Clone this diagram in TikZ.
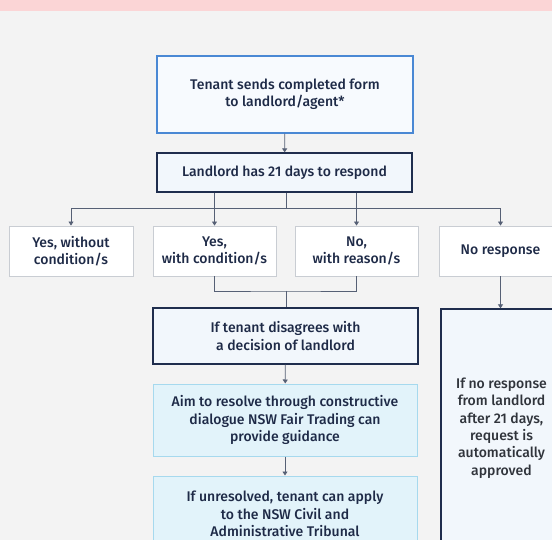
\documentclass[tikz,border=0pt]{standalone}
\usepackage{fontspec}
\setmainfont{Fira Sans}[UprightFont=* Medium, BoldFont=* SemiBold]
\usetikzlibrary{arrows.meta}

\definecolor{pagebg}{HTML}{F3F3F3}
\definecolor{bandpink}{HTML}{FBD5D6}
\definecolor{navytext}{HTML}{1E2A47}
\definecolor{navyline}{HTML}{1F2D4D}
\definecolor{linkgray}{HTML}{566075}
\definecolor{topblue}{HTML}{4A88D4}
\definecolor{topfill}{HTML}{F7FAFE}
\definecolor{paleblue}{HTML}{F2F7FC}
\definecolor{optgray}{HTML}{C9CDD3}
\definecolor{aquafill}{HTML}{E2F3FA}
\definecolor{aquaedge}{HTML}{A6D9EE}
\definecolor{greytext}{HTML}{30343B}

\tikzset{
  basebox/.style={rectangle, inner sep=2pt, align=center, text=navytext,
    font=\fontsize{14}{17.4}\selectfont},
  startbox/.style={basebox, draw=topblue, line width=1.3pt, fill=topfill},
  keybox/.style={basebox, draw=navyline, line width=1.3pt, fill=paleblue},
  optbox/.style={basebox, draw=optgray, line width=0.9pt, fill=white},
  helpbox/.style={basebox, draw=aquaedge, line width=1pt, fill=aquafill},
  notebox/.style={basebox, draw=navyline, line width=1.3pt, fill=paleblue, text=greytext},
  link/.style={draw=linkgray, line width=0.8pt},
  flow/.style={link, -{Triangle[length=4pt,width=5pt]}},
}

\begin{document}
\begin{tikzpicture}[x=1pt,y=-1pt]
  % page and header band
  \fill[pagebg] (0,0) rectangle (552,540);
  \fill[bandpink] (0,0) rectangle (552,11);
  \useasboundingbox (0,0) rectangle (552,540);

  % boxes
  \node[startbox, minimum width=256pt, minimum height=77pt] (start) at (285,94.5)
    {Tenant sends completed form\\to landlord/agent*};
  \node[keybox, minimum width=255pt, minimum height=39pt] (respond) at (284.5,172.5)
    {Landlord has 21 days to respond};

  \node[optbox, minimum width=124pt, minimum height=50pt] (yesno) at (71,251)
    {Yes, without\\condition/s};
  \node[optbox, minimum width=123pt, minimum height=50pt] (yeswith) at (214.5,251)
    {Yes,\\with condition/s};
  \node[optbox, minimum width=123pt, minimum height=50pt] (nowith) at (356.5,251)
    {No,\\with reason/s};
  \node[optbox, minimum width=123pt, minimum height=50pt] (noresp) at (500.5,251)
    {No response};

  \node[keybox, minimum width=265pt, minimum height=56pt] (disagree) at (285.5,336)
    {If tenant disagrees with\\a decision of landlord};
  \node[helpbox, minimum width=264pt, minimum height=72pt] (dialogue) at (285,420)
    {Aim to resolve through constructive\\dialogue NSW Fair Trading can\\provide guidance};
  \node[helpbox, minimum width=264pt, minimum height=76pt] (tribunal) at (285,514)
    {If unresolved, tenant can apply\\to the NSW Civil and\\Administrative Tribunal};
  \node[notebox, minimum width=121pt, minimum height=238pt] (auto) at (501.5,428)
    {If no response\\from landlord\\after 21 days,\\request is\\automatically\\approved};

  % junction points
  \coordinate (bus) at (286,208);
  \coordinate (merge) at (286,291);

  % connectors
  \draw[flow] (start) -- (respond);
  \draw[link] (respond.south -| bus) -- (bus);
  \draw[flow] (bus) -| (yesno.north);
  \draw[flow] (bus) -| (noresp.north);
  \draw[flow] (respond.south -| yeswith.north) -- (yeswith.north);
  \draw[flow] (respond.south -| nowith.north) -- (nowith.north);
  \draw[link] (yeswith.south) |- (merge) -| (nowith.south);
  \draw[link] (merge) -- (disagree.north -| merge);
  \draw[flow] (noresp.south) -- (auto.north -| noresp.south);
  \draw[flow] (disagree) -- (dialogue);
  \draw[flow] (dialogue) -- (tribunal);
\end{tikzpicture}
\end{document}
